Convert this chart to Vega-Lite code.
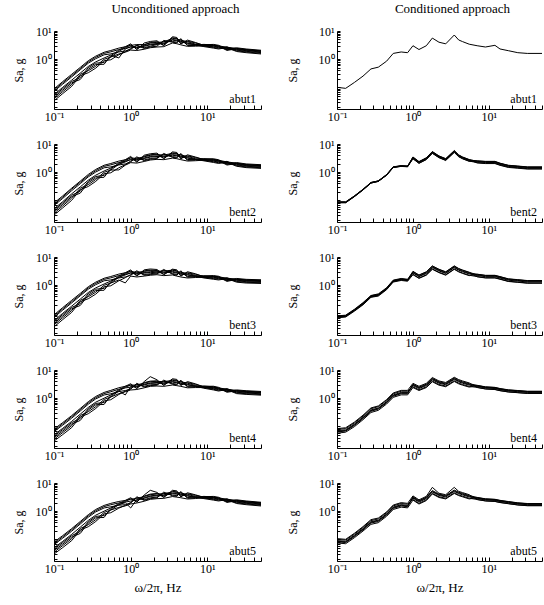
{
"$schema": "https://vega.github.io/schema/vega-lite/v6.json",
"padding": {"left": 12, "top": 3, "right": 0, "bottom": 0},
"background": "white",
"config": {
  "font": "Liberation Serif",
  "view": {"stroke": null},
  "axis": {"domainColor": "black", "tickColor": "black", "labelColor": "black", "titleColor": "black", "labelFont": "Liberation Serif", "titleFont": "Liberation Serif", "labelFontSize": 12, "titleFontSize": 12, "titleFontWeight": "normal", "domainWidth": 1, "tickWidth": 1, "grid": false, "labelOverlap": false, "labelFlush": false},
  "title": {"font": "Liberation Serif", "fontSize": 13, "fontWeight": "normal", "color": "black"}
},
"datasets": {"sa": [
{"p":"U1","f":0.1,"c1":0.033,"c2":0.088,"c3":0.044,"c4":0.072,"c5":0.055,"c6":0.039,"c7":0.08,"c8":0.05},
{"p":"U1","f":0.13,"c1":0.06,"c2":0.16,"c3":0.08,"c4":0.13,"c5":0.1,"c6":0.07,"c7":0.145,"c8":0.09},
{"p":"U1","f":0.17,"c1":0.108,"c2":0.29,"c3":0.144,"c4":0.234,"c5":0.18,"c6":0.126,"c7":0.26,"c8":0.162},
{"p":"U1","f":0.22,"c1":0.26,"c2":0.51,"c3":0.19,"c4":0.42,"c5":0.32,"c6":0.29,"c7":0.46,"c8":0.22},
{"p":"U1","f":0.28,"c1":0.33,"c2":0.88,"c3":0.44,"c4":0.72,"c5":0.55,"c6":0.39,"c7":0.8,"c8":0.5},
{"p":"U1","f":0.35,"c1":0.48,"c2":1.28,"c3":0.64,"c4":1.04,"c5":0.8,"c6":0.56,"c7":1.16,"c8":0.72},
{"p":"U1","f":0.45,"c1":0.88,"c2":1.76,"c3":0.66,"c4":1.43,"c5":1.1,"c6":0.99,"c7":1.6,"c8":0.77},
{"p":"U1","f":0.55,"c1":0.95,"c2":2.03,"c3":1.33,"c4":1.54,"c5":1.4,"c6":1.19,"c7":1.82,"c8":1.19},
{"p":"U1","f":0.7,"c1":1.43,"c2":2.47,"c3":2.09,"c4":1.8,"c5":1.1,"c6":1.9,"c7":2.19,"c8":1.52},
{"p":"U1","f":0.85,"c1":1.84,"c2":2.76,"c3":2.76,"c4":1.96,"c5":2.3,"c6":2.53,"c7":2.42,"c8":1.77},
{"p":"U1","f":1,"c1":2.38,"c2":3.08,"c3":3.5,"c4":2.24,"c5":2.8,"c6":3.22,"c7":2.66,"c8":2.1},
{"p":"U1","f":1.2,"c1":3.1,"c2":3.3,"c3":2.16,"c4":3.1,"c5":2.7,"c6":2.3,"c7":2.57,"c8":2.03},
{"p":"U1","f":1.5,"c1":2.55,"c2":3.3,"c3":3.75,"c4":2.4,"c5":3.0,"c6":3.2,"c7":2.85,"c8":2.25},
{"p":"U1","f":1.8,"c1":2.89,"c2":3.74,"c3":4.25,"c4":2.72,"c5":3.4,"c6":3.91,"c7":3.23,"c8":2.55},
{"p":"U1","f":2.2,"c1":3.3,"c2":3.96,"c3":4.5,"c4":2.88,"c5":3.6,"c6":4.14,"c7":3.42,"c8":2.7},
{"p":"U1","f":2.7,"c1":4.26,"c2":4.07,"c3":2.96,"c4":4.63,"c5":3.7,"c6":3.15,"c7":3.52,"c8":2.78},
{"p":"U1","f":3.5,"c1":4.25,"c2":5.5,"c3":6.25,"c4":4.0,"c5":5.0,"c6":5.75,"c7":4.75,"c8":3.75},
{"p":"U1","f":4,"c1":4.0,"c2":5.17,"c3":5.88,"c4":3.76,"c5":4.7,"c6":5.4,"c7":4.47,"c8":3.53},
{"p":"U1","f":4.5,"c1":4.95,"c2":4.73,"c3":3.44,"c4":5.38,"c5":4.3,"c6":3.66,"c7":4.09,"c8":3.23},
{"p":"U1","f":5.5,"c1":3.23,"c2":4.18,"c3":4.75,"c4":3.04,"c5":3.8,"c6":4.37,"c7":3.61,"c8":2.85},
{"p":"U1","f":7,"c1":3.23,"c2":3.4,"c3":3.91,"c4":3.06,"c5":3.23,"c6":3.74,"c7":3.23,"c8":2.89},
{"p":"U1","f":9,"c1":3.35,"c2":2.95,"c3":3.1,"c4":3.26,"c5":2.79,"c6":3.1,"c7":2.95,"c8":2.95},
{"p":"U1","f":12,"c1":3.19,"c2":2.61,"c3":2.9,"c4":3.34,"c5":2.47,"c6":3.05,"c7":2.76,"c8":3.1},
{"p":"U1","f":14,"c1":2.97,"c2":2.43,"c3":2.7,"c4":3.11,"c5":2.3,"c6":2.84,"c7":2.57,"c8":2.89},
{"p":"U1","f":18,"c1":2.64,"c2":2.76,"c3":2.4,"c4":2.16,"c5":2.57,"c6":2.52,"c7":2.28,"c8":2.04},
{"p":"U1","f":24,"c1":2.42,"c2":1.98,"c3":2.2,"c4":2.53,"c5":1.87,"c6":2.31,"c7":2.09,"c8":2.35},
{"p":"U1","f":32,"c1":2.2,"c2":1.8,"c3":2.0,"c4":2.3,"c5":1.7,"c6":2.1,"c7":1.9,"c8":2.14},
{"p":"U1","f":50,"c1":1.98,"c2":1.62,"c3":1.8,"c4":2.07,"c5":1.53,"c6":1.89,"c7":1.71,"c8":1.93},

{"p":"U2","f":0.1,"c1":0.03,"c2":0.08,"c3":0.04,"c4":0.065,"c5":0.05,"c6":0.035,"c7":0.072,"c8":0.045},
{"p":"U2","f":0.13,"c1":0.054,"c2":0.144,"c3":0.072,"c4":0.117,"c5":0.09,"c6":0.063,"c7":0.13,"c8":0.081},
{"p":"U2","f":0.17,"c1":0.1,"c2":0.27,"c3":0.136,"c4":0.22,"c5":0.17,"c6":0.12,"c7":0.25,"c8":0.153},
{"p":"U2","f":0.22,"c1":0.24,"c2":0.48,"c3":0.18,"c4":0.39,"c5":0.3,"c6":0.27,"c7":0.435,"c8":0.21},
{"p":"U2","f":0.28,"c1":0.31,"c2":0.83,"c3":0.42,"c4":0.68,"c5":0.52,"c6":0.36,"c7":0.75,"c8":0.47},
{"p":"U2","f":0.35,"c1":0.47,"c2":1.25,"c3":0.62,"c4":1.01,"c5":0.78,"c6":0.55,"c7":1.13,"c8":0.7},
{"p":"U2","f":0.45,"c1":0.88,"c2":1.76,"c3":0.66,"c4":1.43,"c5":1.1,"c6":0.99,"c7":1.6,"c8":0.77},
{"p":"U2","f":0.55,"c1":0.95,"c2":2.03,"c3":1.33,"c4":1.54,"c5":1.4,"c6":1.19,"c7":1.82,"c8":1.19},
{"p":"U2","f":0.7,"c1":1.43,"c2":2.47,"c3":2.09,"c4":1.8,"c5":1.9,"c6":1.9,"c7":2.19,"c8":1.2},
{"p":"U2","f":0.85,"c1":1.84,"c2":2.76,"c3":2.76,"c4":1.96,"c5":2.3,"c6":2.53,"c7":2.42,"c8":1.77},
{"p":"U2","f":1,"c1":2.47,"c2":3.19,"c3":3.63,"c4":2.32,"c5":2.9,"c6":3.34,"c7":2.76,"c8":2.18},
{"p":"U2","f":1.2,"c1":3.22,"c2":3.08,"c3":2.24,"c4":3.5,"c5":2.8,"c6":2.38,"c7":2.66,"c8":2.1},
{"p":"U2","f":1.5,"c1":2.72,"c2":3.52,"c3":4.0,"c4":2.56,"c5":3.2,"c6":3.68,"c7":3.04,"c8":2.4},
{"p":"U2","f":1.8,"c1":3.06,"c2":3.96,"c3":4.5,"c4":2.88,"c5":3.6,"c6":4.14,"c7":3.42,"c8":2.7},
{"p":"U2","f":2.2,"c1":3.23,"c2":4.18,"c3":4.75,"c4":3.04,"c5":3.8,"c6":4.37,"c7":3.61,"c8":2.85},
{"p":"U2","f":2.7,"c1":4.26,"c2":4.07,"c3":2.96,"c4":4.63,"c5":3.7,"c6":3.15,"c7":3.52,"c8":2.78},
{"p":"U2","f":3.5,"c1":3.57,"c2":4.62,"c3":5.25,"c4":3.36,"c5":4.2,"c6":4.83,"c7":3.99,"c8":3.15},
{"p":"U2","f":4,"c1":3.4,"c2":4.4,"c3":5.0,"c4":3.2,"c5":4.0,"c6":4.6,"c7":3.8,"c8":3.0},
{"p":"U2","f":4.5,"c1":4.26,"c2":4.07,"c3":2.96,"c4":4.63,"c5":3.7,"c6":3.15,"c7":3.52,"c8":2.78},
{"p":"U2","f":5.5,"c1":2.81,"c2":3.63,"c3":4.13,"c4":2.64,"c5":3.3,"c6":3.8,"c7":3.14,"c8":2.48},
{"p":"U2","f":7,"c1":2.85,"c2":3.0,"c3":3.45,"c4":2.7,"c5":2.85,"c6":3.3,"c7":2.85,"c8":2.55},
{"p":"U2","f":9,"c1":3.02,"c2":2.66,"c3":2.8,"c4":2.94,"c5":2.52,"c6":2.8,"c7":2.66,"c8":2.66},
{"p":"U2","f":12,"c1":2.86,"c2":2.34,"c3":2.6,"c4":2.99,"c5":2.21,"c6":2.73,"c7":2.47,"c8":2.77},
{"p":"U2","f":14,"c1":2.64,"c2":2.16,"c3":2.4,"c4":2.76,"c5":2.04,"c6":2.52,"c7":2.28,"c8":2.56},
{"p":"U2","f":18,"c1":2.31,"c2":2.42,"c3":2.1,"c4":1.89,"c5":2.24,"c6":2.21,"c7":2.0,"c8":1.79},
{"p":"U2","f":24,"c1":2.09,"c2":1.71,"c3":1.9,"c4":2.19,"c5":1.62,"c6":2.0,"c7":1.81,"c8":2.03},
{"p":"U2","f":32,"c1":1.87,"c2":1.53,"c3":1.7,"c4":1.96,"c5":1.45,"c6":1.79,"c7":1.62,"c8":1.81},
{"p":"U2","f":50,"c1":1.76,"c2":1.44,"c3":1.6,"c4":1.84,"c5":1.36,"c6":1.68,"c7":1.52,"c8":1.71},

{"p":"U3","f":0.1,"c1":0.033,"c2":0.088,"c3":0.044,"c4":0.072,"c5":0.055,"c6":0.039,"c7":0.08,"c8":0.05},
{"p":"U3","f":0.13,"c1":0.06,"c2":0.16,"c3":0.08,"c4":0.13,"c5":0.1,"c6":0.07,"c7":0.145,"c8":0.09},
{"p":"U3","f":0.17,"c1":0.108,"c2":0.29,"c3":0.144,"c4":0.234,"c5":0.18,"c6":0.126,"c7":0.26,"c8":0.162},
{"p":"U3","f":0.22,"c1":0.26,"c2":0.51,"c3":0.19,"c4":0.42,"c5":0.32,"c6":0.29,"c7":0.46,"c8":0.22},
{"p":"U3","f":0.28,"c1":0.33,"c2":0.88,"c3":0.44,"c4":0.72,"c5":0.55,"c6":0.39,"c7":0.8,"c8":0.5},
{"p":"U3","f":0.35,"c1":0.48,"c2":1.28,"c3":0.64,"c4":1.04,"c5":0.8,"c6":0.56,"c7":1.16,"c8":0.72},
{"p":"U3","f":0.45,"c1":0.88,"c2":1.76,"c3":0.66,"c4":1.43,"c5":1.1,"c6":0.99,"c7":1.6,"c8":0.77},
{"p":"U3","f":0.55,"c1":0.95,"c2":2.03,"c3":1.33,"c4":1.54,"c5":1.4,"c6":1.19,"c7":1.82,"c8":1.19},
{"p":"U3","f":0.7,"c1":1.43,"c2":2.47,"c3":2.09,"c4":1.8,"c5":1.9,"c6":1.9,"c7":2.19,"c8":1.52},
{"p":"U3","f":0.85,"c1":1.84,"c2":2.76,"c3":2.76,"c4":1.96,"c5":2.3,"c6":2.53,"c7":2.42,"c8":1.2},
{"p":"U3","f":1,"c1":2.38,"c2":3.08,"c3":3.5,"c4":2.24,"c5":2.8,"c6":3.22,"c7":2.66,"c8":2.1},
{"p":"U3","f":1.2,"c1":2.99,"c2":2.86,"c3":2.08,"c4":3.25,"c5":2.6,"c6":2.21,"c7":2.47,"c8":1.95},
{"p":"U3","f":1.5,"c1":2.38,"c2":3.08,"c3":3.5,"c4":2.24,"c5":2.8,"c6":3.22,"c7":2.66,"c8":2.1},
{"p":"U3","f":1.8,"c1":2.55,"c2":3.3,"c3":3.75,"c4":2.4,"c5":3.0,"c6":3.45,"c7":2.85,"c8":2.25},
{"p":"U3","f":2.2,"c1":2.7,"c2":3.1,"c3":3.6,"c4":2.5,"c5":3.2,"c6":3.3,"c7":2.75,"c8":2.35},
{"p":"U3","f":2.7,"c1":3.34,"c2":3.19,"c3":2.32,"c4":3.63,"c5":2.9,"c6":2.47,"c7":2.76,"c8":2.18},
{"p":"U3","f":3.5,"c1":2.6,"c2":3.4,"c3":3.7,"c4":2.45,"c5":3.1,"c6":3.5,"c7":2.9,"c8":2.3},
{"p":"U3","f":4,"c1":2.38,"c2":3.08,"c3":3.5,"c4":2.24,"c5":2.8,"c6":3.22,"c7":2.66,"c8":2.1},
{"p":"U3","f":4.5,"c1":2.99,"c2":2.86,"c3":2.08,"c4":3.25,"c5":2.6,"c6":2.21,"c7":2.47,"c8":1.95},
{"p":"U3","f":5.5,"c1":2.04,"c2":2.64,"c3":3.0,"c4":1.92,"c5":2.4,"c6":2.76,"c7":2.28,"c8":1.8},
{"p":"U3","f":7,"c1":2.09,"c2":2.2,"c3":2.53,"c4":1.98,"c5":2.09,"c6":2.42,"c7":2.09,"c8":1.87},
{"p":"U3","f":9,"c1":2.16,"c2":1.9,"c3":2.0,"c4":2.1,"c5":1.8,"c6":2.0,"c7":1.9,"c8":1.9},
{"p":"U3","f":12,"c1":2.09,"c2":1.71,"c3":1.9,"c4":2.19,"c5":1.62,"c6":2.0,"c7":1.81,"c8":2.03},
{"p":"U3","f":14,"c1":1.98,"c2":1.62,"c3":1.8,"c4":2.07,"c5":1.53,"c6":1.89,"c7":1.71,"c8":1.93},
{"p":"U3","f":18,"c1":1.76,"c2":1.84,"c3":1.6,"c4":1.44,"c5":1.71,"c6":1.68,"c7":1.52,"c8":1.36},
{"p":"U3","f":24,"c1":1.65,"c2":1.35,"c3":1.5,"c4":1.73,"c5":1.28,"c6":1.58,"c7":1.43,"c8":1.6},
{"p":"U3","f":32,"c1":1.54,"c2":1.26,"c3":1.4,"c4":1.61,"c5":1.19,"c6":1.47,"c7":1.33,"c8":1.5},
{"p":"U3","f":50,"c1":1.49,"c2":1.22,"c3":1.35,"c4":1.55,"c5":1.15,"c6":1.42,"c7":1.28,"c8":1.44},

{"p":"U4","f":0.1,"c1":0.03,"c2":0.08,"c3":0.04,"c4":0.065,"c5":0.05,"c6":0.035,"c7":0.072,"c8":0.045},
{"p":"U4","f":0.13,"c1":0.051,"c2":0.136,"c3":0.068,"c4":0.11,"c5":0.085,"c6":0.06,"c7":0.123,"c8":0.077},
{"p":"U4","f":0.17,"c1":0.09,"c2":0.24,"c3":0.12,"c4":0.195,"c5":0.15,"c6":0.105,"c7":0.218,"c8":0.135},
{"p":"U4","f":0.22,"c1":0.216,"c2":0.43,"c3":0.162,"c4":0.35,"c5":0.27,"c6":0.243,"c7":0.39,"c8":0.19},
{"p":"U4","f":0.28,"c1":0.28,"c2":0.75,"c3":0.38,"c4":0.61,"c5":0.47,"c6":0.33,"c7":0.68,"c8":0.42},
{"p":"U4","f":0.35,"c1":0.43,"c2":1.15,"c3":0.58,"c4":0.94,"c5":0.72,"c6":0.5,"c7":1.04,"c8":0.65},
{"p":"U4","f":0.45,"c1":0.8,"c2":1.6,"c3":0.6,"c4":1.3,"c5":1.0,"c6":0.9,"c7":1.45,"c8":0.7},
{"p":"U4","f":0.55,"c1":0.88,"c2":1.89,"c3":1.24,"c4":1.43,"c5":1.3,"c6":1.1,"c7":1.69,"c8":1.1},
{"p":"U4","f":0.7,"c1":1.35,"c2":2.34,"c3":1.98,"c4":1.71,"c5":1.8,"c6":1.8,"c7":2.07,"c8":1.44},
{"p":"U4","f":0.85,"c1":1.76,"c2":2.64,"c3":2.64,"c4":1.87,"c5":1.3,"c6":2.42,"c7":2.31,"c8":1.69},
{"p":"U4","f":1,"c1":2.21,"c2":2.86,"c3":3.25,"c4":2.08,"c5":2.6,"c6":2.99,"c7":2.47,"c8":1.95},
{"p":"U4","f":1.2,"c1":3.1,"c2":2.97,"c3":2.16,"c4":3.38,"c5":2.7,"c6":2.3,"c7":2.57,"c8":2.03},
{"p":"U4","f":1.5,"c1":2.64,"c2":3.41,"c3":3.88,"c4":2.48,"c5":3.1,"c6":3.57,"c7":2.95,"c8":2.33},
{"p":"U4","f":1.8,"c1":2.98,"c2":3.85,"c3":5.8,"c4":2.8,"c5":3.5,"c6":4.03,"c7":3.33,"c8":2.63},
{"p":"U4","f":2.2,"c1":3.06,"c2":3.96,"c3":4.5,"c4":2.88,"c5":3.6,"c6":4.14,"c7":3.42,"c8":2.7},
{"p":"U4","f":2.7,"c1":4.03,"c2":3.85,"c3":2.8,"c4":4.38,"c5":3.5,"c6":2.98,"c7":3.33,"c8":2.63},
{"p":"U4","f":3.5,"c1":3.32,"c2":4.29,"c3":4.88,"c4":3.12,"c5":3.9,"c6":4.49,"c7":3.71,"c8":2.93},
{"p":"U4","f":4,"c1":3.15,"c2":4.07,"c3":4.63,"c4":2.96,"c5":3.7,"c6":4.26,"c7":3.52,"c8":2.78},
{"p":"U4","f":4.5,"c1":4.03,"c2":3.85,"c3":2.8,"c4":4.38,"c5":3.5,"c6":2.98,"c7":3.33,"c8":2.63},
{"p":"U4","f":5.5,"c1":2.64,"c2":3.41,"c3":3.88,"c4":2.48,"c5":3.1,"c6":3.57,"c7":2.95,"c8":2.33},
{"p":"U4","f":7,"c1":2.66,"c2":2.8,"c3":3.22,"c4":2.52,"c5":2.66,"c6":3.08,"c7":2.66,"c8":2.38},
{"p":"U4","f":9,"c1":2.7,"c2":2.38,"c3":2.5,"c4":2.63,"c5":2.25,"c6":2.5,"c7":2.38,"c8":2.38},
{"p":"U4","f":12,"c1":2.53,"c2":2.07,"c3":2.3,"c4":2.65,"c5":1.96,"c6":2.42,"c7":2.19,"c8":2.46},
{"p":"U4","f":14,"c1":2.31,"c2":1.89,"c3":2.1,"c4":2.42,"c5":1.79,"c6":2.21,"c7":2.0,"c8":2.25},
{"p":"U4","f":18,"c1":2.09,"c2":2.19,"c3":1.9,"c4":1.71,"c5":2.03,"c6":2.0,"c7":1.81,"c8":1.62},
{"p":"U4","f":24,"c1":1.87,"c2":1.53,"c3":1.7,"c4":1.96,"c5":1.45,"c6":1.79,"c7":1.62,"c8":1.82},
{"p":"U4","f":32,"c1":1.76,"c2":1.44,"c3":1.6,"c4":1.84,"c5":1.36,"c6":1.68,"c7":1.52,"c8":1.71},
{"p":"U4","f":50,"c1":1.65,"c2":1.35,"c3":1.5,"c4":1.73,"c5":1.28,"c6":1.58,"c7":1.43,"c8":1.6},

{"p":"U5","f":0.1,"c1":0.03,"c2":0.08,"c3":0.04,"c4":0.065,"c5":0.05,"c6":0.035,"c7":0.072,"c8":0.045},
{"p":"U5","f":0.13,"c1":0.051,"c2":0.136,"c3":0.068,"c4":0.11,"c5":0.085,"c6":0.06,"c7":0.123,"c8":0.077},
{"p":"U5","f":0.17,"c1":0.09,"c2":0.24,"c3":0.12,"c4":0.195,"c5":0.15,"c6":0.105,"c7":0.218,"c8":0.135},
{"p":"U5","f":0.22,"c1":0.216,"c2":0.43,"c3":0.162,"c4":0.35,"c5":0.27,"c6":0.243,"c7":0.39,"c8":0.19},
{"p":"U5","f":0.28,"c1":0.28,"c2":0.75,"c3":0.38,"c4":0.61,"c5":0.47,"c6":0.33,"c7":0.68,"c8":0.42},
{"p":"U5","f":0.35,"c1":0.43,"c2":1.15,"c3":0.58,"c4":0.94,"c5":0.72,"c6":0.5,"c7":1.04,"c8":0.65},
{"p":"U5","f":0.45,"c1":0.8,"c2":1.6,"c3":0.6,"c4":1.3,"c5":1.0,"c6":0.9,"c7":1.45,"c8":0.7},
{"p":"U5","f":0.55,"c1":0.88,"c2":1.89,"c3":1.24,"c4":1.43,"c5":1.3,"c6":1.1,"c7":1.69,"c8":1.1},
{"p":"U5","f":0.7,"c1":1.28,"c2":2.21,"c3":1.87,"c4":1.62,"c5":1.7,"c6":1.7,"c7":1.96,"c8":1.36},
{"p":"U5","f":0.85,"c1":1.6,"c2":2.4,"c3":2.4,"c4":1.7,"c5":2.0,"c6":2.2,"c7":2.1,"c8":1.54},
{"p":"U5","f":1,"c1":2.04,"c2":2.64,"c3":3.0,"c4":1.92,"c5":1.3,"c6":2.76,"c7":2.28,"c8":1.8},
{"p":"U5","f":1.2,"c1":2.99,"c2":2.86,"c3":2.08,"c4":3.25,"c5":2.6,"c6":2.21,"c7":2.47,"c8":1.95},
{"p":"U5","f":1.5,"c1":2.55,"c2":3.3,"c3":3.75,"c4":2.4,"c5":3.0,"c6":3.45,"c7":2.85,"c8":2.25},
{"p":"U5","f":1.8,"c1":2.98,"c2":3.85,"c3":5.5,"c4":2.8,"c5":3.5,"c6":4.03,"c7":3.33,"c8":2.63},
{"p":"U5","f":2.2,"c1":3.15,"c2":4.07,"c3":4.63,"c4":2.96,"c5":3.7,"c6":4.26,"c7":3.52,"c8":2.78},
{"p":"U5","f":2.7,"c1":4.37,"c2":4.18,"c3":3.04,"c4":4.75,"c5":3.8,"c6":3.23,"c7":3.61,"c8":2.85},
{"p":"U5","f":3.5,"c1":3.74,"c2":4.84,"c3":5.5,"c4":3.52,"c5":4.4,"c6":5.06,"c7":4.18,"c8":3.3},
{"p":"U5","f":4,"c1":3.57,"c2":4.62,"c3":5.25,"c4":3.36,"c5":4.2,"c6":4.83,"c7":3.99,"c8":3.15},
{"p":"U5","f":4.5,"c1":4.6,"c2":4.4,"c3":3.2,"c4":5.0,"c5":4.0,"c6":3.4,"c7":3.8,"c8":3.0},
{"p":"U5","f":5.5,"c1":3.06,"c2":3.96,"c3":4.5,"c4":2.88,"c5":3.6,"c6":4.14,"c7":3.42,"c8":2.7},
{"p":"U5","f":7,"c1":3.14,"c2":3.3,"c3":3.8,"c4":2.97,"c5":3.14,"c6":3.63,"c7":3.14,"c8":2.81},
{"p":"U5","f":9,"c1":3.35,"c2":2.95,"c3":3.1,"c4":3.26,"c5":2.79,"c6":3.1,"c7":2.95,"c8":2.95},
{"p":"U5","f":12,"c1":3.19,"c2":2.61,"c3":2.9,"c4":3.34,"c5":2.47,"c6":3.05,"c7":2.76,"c8":3.1},
{"p":"U5","f":14,"c1":2.97,"c2":2.43,"c3":2.7,"c4":3.11,"c5":2.3,"c6":2.84,"c7":2.57,"c8":2.89},
{"p":"U5","f":18,"c1":2.64,"c2":2.76,"c3":2.4,"c4":2.16,"c5":2.57,"c6":2.52,"c7":2.28,"c8":2.04},
{"p":"U5","f":24,"c1":2.42,"c2":1.98,"c3":2.2,"c4":2.53,"c5":1.87,"c6":2.31,"c7":2.09,"c8":2.35},
{"p":"U5","f":32,"c1":2.2,"c2":1.8,"c3":2.0,"c4":2.3,"c5":1.7,"c6":2.1,"c7":1.9,"c8":2.14},
{"p":"U5","f":50,"c1":1.98,"c2":1.62,"c3":1.8,"c4":2.07,"c5":1.53,"c6":1.89,"c7":1.71,"c8":1.93},

{"p":"C1","f":0.1,"c1":0.1},
{"p":"C1","f":0.13,"c1":0.092},
{"p":"C1","f":0.17,"c1":0.15},
{"p":"C1","f":0.22,"c1":0.25},
{"p":"C1","f":0.28,"c1":0.45},
{"p":"C1","f":0.35,"c1":0.52},
{"p":"C1","f":0.45,"c1":0.85},
{"p":"C1","f":0.55,"c1":1.6},
{"p":"C1","f":0.7,"c1":1.8},
{"p":"C1","f":0.85,"c1":1.7},
{"p":"C1","f":1,"c1":3.0},
{"p":"C1","f":1.2,"c1":2.2},
{"p":"C1","f":1.5,"c1":3.0},
{"p":"C1","f":1.8,"c1":5.6},
{"p":"C1","f":2.2,"c1":4.0},
{"p":"C1","f":2.7,"c1":3.5},
{"p":"C1","f":3.5,"c1":7.2},
{"p":"C1","f":4,"c1":4.8},
{"p":"C1","f":4.5,"c1":4.2},
{"p":"C1","f":5.5,"c1":3.4},
{"p":"C1","f":7,"c1":3.0},
{"p":"C1","f":9,"c1":2.7},
{"p":"C1","f":12,"c1":3.1},
{"p":"C1","f":14,"c1":2.3},
{"p":"C1","f":18,"c1":2.0},
{"p":"C1","f":24,"c1":1.7},
{"p":"C1","f":32,"c1":1.6},
{"p":"C1","f":50,"c1":1.6},

{"p":"C2","f":0.1,"c1":0.082,"c2":0.088,"c3":0.085,"c4":0.083,"c5":0.087,"c6":0.085},
{"p":"C2","f":0.13,"c1":0.082,"c2":0.088,"c3":0.085,"c4":0.083,"c5":0.087,"c6":0.085},
{"p":"C2","f":0.17,"c1":0.136,"c2":0.144,"c3":0.14,"c4":0.137,"c5":0.143,"c6":0.14},
{"p":"C2","f":0.22,"c1":0.233,"c2":0.247,"c3":0.24,"c4":0.235,"c5":0.245,"c6":0.24},
{"p":"C2","f":0.28,"c1":0.41,"c2":0.43,"c3":0.42,"c4":0.41,"c5":0.43,"c6":0.42},
{"p":"C2","f":0.35,"c1":0.47,"c2":0.49,"c3":0.48,"c4":0.47,"c5":0.49,"c6":0.48},
{"p":"C2","f":0.45,"c1":0.78,"c2":0.82,"c3":0.8,"c4":0.78,"c5":0.82,"c6":0.8},
{"p":"C2","f":0.55,"c1":1.46,"c2":1.55,"c3":1.5,"c4":1.47,"c5":1.53,"c6":1.5},
{"p":"C2","f":0.7,"c1":1.6,"c2":1.7,"c3":1.65,"c4":1.62,"c5":1.68,"c6":1.65},
{"p":"C2","f":0.85,"c1":1.55,"c2":1.65,"c3":1.6,"c4":1.57,"c5":1.63,"c6":1.6},
{"p":"C2","f":1,"c1":2.98,"c2":3.39,"c3":3.2,"c4":3.46,"c5":3.04,"c6":3.3},
{"p":"C2","f":1.2,"c1":2.05,"c2":2.33,"c3":2.2,"c4":2.38,"c5":2.09,"c6":2.27},
{"p":"C2","f":1.5,"c1":2.79,"c2":3.18,"c3":3.0,"c4":3.24,"c5":2.85,"c6":3.09},
{"p":"C2","f":1.8,"c1":4.65,"c2":5.3,"c3":5.0,"c4":5.4,"c5":4.75,"c6":5.15},
{"p":"C2","f":2.2,"c1":3.26,"c2":3.71,"c3":3.5,"c4":3.78,"c5":3.33,"c6":3.6},
{"p":"C2","f":2.7,"c1":2.6,"c2":2.97,"c3":2.8,"c4":3.02,"c5":2.66,"c6":2.88},
{"p":"C2","f":3.5,"c1":5.02,"c2":5.72,"c3":5.4,"c4":5.83,"c5":5.13,"c6":5.56},
{"p":"C2","f":4,"c1":3.53,"c2":4.03,"c3":3.8,"c4":4.1,"c5":3.61,"c6":3.91},
{"p":"C2","f":4.5,"c1":2.98,"c2":3.39,"c3":3.2,"c4":3.46,"c5":3.04,"c6":3.3},
{"p":"C2","f":5.5,"c1":2.42,"c2":2.76,"c3":2.6,"c4":2.81,"c5":2.47,"c6":2.68},
{"p":"C2","f":7,"c1":2.48,"c2":2.12,"c3":2.3,"c4":2.42,"c5":2.19,"c6":2.53},
{"p":"C2","f":9,"c1":2.38,"c2":2.02,"c3":2.2,"c4":2.31,"c5":2.09,"c6":2.42},
{"p":"C2","f":12,"c1":2.38,"c2":2.02,"c3":2.2,"c4":2.31,"c5":2.09,"c6":2.42},
{"p":"C2","f":14,"c1":2.05,"c2":1.75,"c3":1.9,"c4":2.0,"c5":1.8,"c6":2.09},
{"p":"C2","f":18,"c1":1.73,"c2":1.47,"c3":1.6,"c4":1.68,"c5":1.52,"c6":1.76},
{"p":"C2","f":24,"c1":1.62,"c2":1.38,"c3":1.5,"c4":1.58,"c5":1.43,"c6":1.65},
{"p":"C2","f":32,"c1":1.51,"c2":1.29,"c3":1.4,"c4":1.47,"c5":1.33,"c6":1.54},
{"p":"C2","f":50,"c1":1.51,"c2":1.29,"c3":1.4,"c4":1.47,"c5":1.33,"c6":1.54},

{"p":"C3","f":0.1,"c1":0.069,"c2":0.081,"c3":0.075,"c4":0.072,"c5":0.078,"c6":0.075},
{"p":"C3","f":0.13,"c1":0.074,"c2":0.086,"c3":0.08,"c4":0.077,"c5":0.083,"c6":0.08},
{"p":"C3","f":0.17,"c1":0.12,"c2":0.14,"c3":0.13,"c4":0.125,"c5":0.135,"c6":0.13},
{"p":"C3","f":0.22,"c1":0.2,"c2":0.24,"c3":0.22,"c4":0.21,"c5":0.23,"c6":0.22},
{"p":"C3","f":0.28,"c1":0.37,"c2":0.43,"c3":0.4,"c4":0.38,"c5":0.42,"c6":0.4},
{"p":"C3","f":0.35,"c1":0.41,"c2":0.49,"c3":0.45,"c4":0.43,"c5":0.47,"c6":0.45},
{"p":"C3","f":0.45,"c1":0.69,"c2":0.81,"c3":0.75,"c4":0.72,"c5":0.78,"c6":0.75},
{"p":"C3","f":0.55,"c1":1.29,"c2":1.51,"c3":1.4,"c4":1.34,"c5":1.46,"c6":1.4},
{"p":"C3","f":0.7,"c1":1.47,"c2":1.73,"c3":1.6,"c4":1.54,"c5":1.66,"c6":1.6},
{"p":"C3","f":0.85,"c1":1.38,"c2":1.62,"c3":1.5,"c4":1.44,"c5":1.56,"c6":1.5},
{"p":"C3","f":1,"c1":2.35,"c2":3.02,"c3":2.7,"c4":3.1,"c5":2.43,"c6":2.84},
{"p":"C3","f":1.2,"c1":1.74,"c2":2.24,"c3":2.0,"c4":2.3,"c5":1.8,"c6":2.1},
{"p":"C3","f":1.5,"c1":2.26,"c2":2.91,"c3":2.6,"c4":2.99,"c5":2.34,"c6":2.73},
{"p":"C3","f":1.8,"c1":3.65,"c2":4.7,"c3":4.2,"c4":4.83,"c5":3.78,"c6":4.41},
{"p":"C3","f":2.2,"c1":2.78,"c2":3.58,"c3":3.2,"c4":3.68,"c5":2.88,"c6":3.36},
{"p":"C3","f":2.7,"c1":2.26,"c2":2.91,"c3":2.6,"c4":2.99,"c5":2.34,"c6":2.73},
{"p":"C3","f":3.5,"c1":3.65,"c2":4.7,"c3":4.2,"c4":4.83,"c5":3.78,"c6":4.41},
{"p":"C3","f":4,"c1":2.96,"c2":3.81,"c3":3.4,"c4":3.91,"c5":3.06,"c6":3.57},
{"p":"C3","f":4.5,"c1":2.61,"c2":3.36,"c3":3.0,"c4":3.45,"c5":2.7,"c6":3.15},
{"p":"C3","f":5.5,"c1":2.18,"c2":2.8,"c3":2.5,"c4":2.88,"c5":2.25,"c6":2.63},
{"p":"C3","f":7,"c1":2.42,"c2":1.98,"c3":2.2,"c4":2.31,"c5":2.02,"c6":2.46},
{"p":"C3","f":9,"c1":2.2,"c2":1.8,"c3":2.0,"c4":2.1,"c5":1.84,"c6":2.24},
{"p":"C3","f":12,"c1":2.2,"c2":1.8,"c3":2.0,"c4":2.1,"c5":1.84,"c6":2.24},
{"p":"C3","f":14,"c1":1.98,"c2":1.62,"c3":1.8,"c4":1.89,"c5":1.66,"c6":2.02},
{"p":"C3","f":18,"c1":1.65,"c2":1.35,"c3":1.5,"c4":1.58,"c5":1.38,"c6":1.68},
{"p":"C3","f":24,"c1":1.54,"c2":1.26,"c3":1.4,"c4":1.47,"c5":1.29,"c6":1.57},
{"p":"C3","f":32,"c1":1.43,"c2":1.17,"c3":1.3,"c4":1.37,"c5":1.2,"c6":1.46},
{"p":"C3","f":50,"c1":1.43,"c2":1.17,"c3":1.3,"c4":1.37,"c5":1.2,"c6":1.46},

{"p":"C4","f":0.1,"c1":0.057,"c2":0.083,"c3":0.07,"c4":0.063,"c5":0.077,"c6":0.067},
{"p":"C4","f":0.13,"c1":0.062,"c2":0.089,"c3":0.075,"c4":0.068,"c5":0.083,"c6":0.071},
{"p":"C4","f":0.17,"c1":0.098,"c2":0.142,"c3":0.12,"c4":0.108,"c5":0.132,"c6":0.114},
{"p":"C4","f":0.22,"c1":0.172,"c2":0.248,"c3":0.21,"c4":0.189,"c5":0.231,"c6":0.2},
{"p":"C4","f":0.28,"c1":0.31,"c2":0.45,"c3":0.38,"c4":0.34,"c5":0.42,"c6":0.36},
{"p":"C4","f":0.35,"c1":0.37,"c2":0.53,"c3":0.45,"c4":0.41,"c5":0.5,"c6":0.43},
{"p":"C4","f":0.45,"c1":0.62,"c2":0.89,"c3":0.75,"c4":0.68,"c5":0.83,"c6":0.71},
{"p":"C4","f":0.55,"c1":1.07,"c2":1.53,"c3":1.3,"c4":1.17,"c5":1.43,"c6":1.24},
{"p":"C4","f":0.7,"c1":1.31,"c2":1.89,"c3":1.6,"c4":1.44,"c5":1.76,"c6":1.52},
{"p":"C4","f":0.85,"c1":1.31,"c2":1.89,"c3":1.6,"c4":1.44,"c5":1.76,"c6":1.52},
{"p":"C4","f":1,"c1":2.38,"c2":3.36,"c3":2.8,"c4":3.14,"c5":2.52,"c6":2.97},
{"p":"C4","f":1.2,"c1":1.87,"c2":2.64,"c3":2.2,"c4":2.46,"c5":1.98,"c6":2.33},
{"p":"C4","f":1.5,"c1":2.38,"c2":3.36,"c3":2.8,"c4":3.14,"c5":2.52,"c6":2.97},
{"p":"C4","f":1.8,"c1":3.83,"c2":5.4,"c3":4.5,"c4":5.04,"c5":4.05,"c6":4.77},
{"p":"C4","f":2.2,"c1":2.89,"c2":4.08,"c3":3.4,"c4":3.81,"c5":3.06,"c6":3.6},
{"p":"C4","f":2.7,"c1":2.55,"c2":3.6,"c3":3.0,"c4":3.36,"c5":2.7,"c6":3.18},
{"p":"C4","f":3.5,"c1":3.91,"c2":5.52,"c3":4.6,"c4":5.15,"c5":4.14,"c6":4.88},
{"p":"C4","f":4,"c1":3.23,"c2":4.56,"c3":3.8,"c4":4.26,"c5":3.42,"c6":4.03},
{"p":"C4","f":4.5,"c1":2.89,"c2":4.08,"c3":3.4,"c4":3.81,"c5":3.06,"c6":3.6},
{"p":"C4","f":5.5,"c1":2.47,"c2":3.48,"c3":2.9,"c4":3.25,"c5":2.61,"c6":3.07},
{"p":"C4","f":7,"c1":2.81,"c2":2.39,"c3":2.6,"c4":2.86,"c5":2.42,"c6":2.7},
{"p":"C4","f":9,"c1":2.48,"c2":2.12,"c3":2.3,"c4":2.53,"c5":2.14,"c6":2.39},
{"p":"C4","f":12,"c1":2.38,"c2":2.02,"c3":2.2,"c4":2.42,"c5":2.05,"c6":2.29},
{"p":"C4","f":14,"c1":2.16,"c2":1.84,"c3":2.0,"c4":2.2,"c5":1.86,"c6":2.08},
{"p":"C4","f":18,"c1":1.94,"c2":1.66,"c3":1.8,"c4":1.98,"c5":1.67,"c6":1.87},
{"p":"C4","f":24,"c1":1.84,"c2":1.56,"c3":1.7,"c4":1.87,"c5":1.58,"c6":1.77},
{"p":"C4","f":32,"c1":1.73,"c2":1.47,"c3":1.6,"c4":1.76,"c5":1.49,"c6":1.66},
{"p":"C4","f":50,"c1":1.73,"c2":1.47,"c3":1.6,"c4":1.76,"c5":1.49,"c6":1.66},

{"p":"C5","f":0.1,"c1":0.074,"c2":0.106,"c3":0.09,"c4":0.081,"c5":0.099,"c6":0.086},
{"p":"C5","f":0.13,"c1":0.07,"c2":0.1,"c3":0.085,"c4":0.077,"c5":0.094,"c6":0.081},
{"p":"C5","f":0.17,"c1":0.115,"c2":0.165,"c3":0.14,"c4":0.126,"c5":0.154,"c6":0.133},
{"p":"C5","f":0.22,"c1":0.197,"c2":0.283,"c3":0.24,"c4":0.216,"c5":0.264,"c6":0.228},
{"p":"C5","f":0.28,"c1":0.34,"c2":0.5,"c3":0.42,"c4":0.38,"c5":0.46,"c6":0.4},
{"p":"C5","f":0.35,"c1":0.39,"c2":0.57,"c3":0.48,"c4":0.43,"c5":0.53,"c6":0.46},
{"p":"C5","f":0.45,"c1":0.66,"c2":0.94,"c3":0.8,"c4":0.72,"c5":0.88,"c6":0.76},
{"p":"C5","f":0.55,"c1":1.15,"c2":1.65,"c3":1.4,"c4":1.26,"c5":1.54,"c6":1.33},
{"p":"C5","f":0.7,"c1":1.39,"c2":2.01,"c3":1.7,"c4":1.53,"c5":1.87,"c6":1.62},
{"p":"C5","f":0.85,"c1":1.31,"c2":1.89,"c3":1.6,"c4":1.44,"c5":1.76,"c6":1.52},
{"p":"C5","f":1,"c1":2.47,"c2":3.48,"c3":2.9,"c4":3.25,"c5":2.61,"c6":3.07},
{"p":"C5","f":1.2,"c1":1.79,"c2":2.52,"c3":2.1,"c4":2.35,"c5":1.89,"c6":2.23},
{"p":"C5","f":1.5,"c1":2.38,"c2":3.36,"c3":2.8,"c4":3.14,"c5":2.52,"c6":2.97},
{"p":"C5","f":1.8,"c1":4.08,"c2":7.0,"c3":4.8,"c4":5.38,"c5":4.32,"c6":5.09},
{"p":"C5","f":2.2,"c1":3.06,"c2":4.32,"c3":3.6,"c4":4.03,"c5":3.24,"c6":3.82},
{"p":"C5","f":2.7,"c1":2.72,"c2":3.84,"c3":3.2,"c4":3.58,"c5":2.88,"c6":3.39},
{"p":"C5","f":3.5,"c1":4.25,"c2":7.0,"c3":5.0,"c4":5.6,"c5":4.5,"c6":5.3},
{"p":"C5","f":4,"c1":3.57,"c2":5.04,"c3":4.2,"c4":4.7,"c5":3.78,"c6":4.45},
{"p":"C5","f":4.5,"c1":3.23,"c2":4.56,"c3":3.8,"c4":4.26,"c5":3.42,"c6":4.03},
{"p":"C5","f":5.5,"c1":2.72,"c2":3.84,"c3":3.2,"c4":3.58,"c5":2.88,"c6":3.39},
{"p":"C5","f":7,"c1":3.02,"c2":2.58,"c3":2.8,"c4":3.08,"c5":2.6,"c6":2.91},
{"p":"C5","f":9,"c1":2.7,"c2":2.3,"c3":2.5,"c4":2.75,"c5":2.33,"c6":2.6},
{"p":"C5","f":12,"c1":2.59,"c2":2.21,"c3":2.4,"c4":2.64,"c5":2.23,"c6":2.5},
{"p":"C5","f":14,"c1":2.38,"c2":2.02,"c3":2.2,"c4":2.42,"c5":2.05,"c6":2.29},
{"p":"C5","f":18,"c1":2.16,"c2":1.84,"c3":2.0,"c4":2.2,"c5":1.86,"c6":2.08},
{"p":"C5","f":24,"c1":1.94,"c2":1.66,"c3":1.8,"c4":1.98,"c5":1.67,"c6":1.87},
{"p":"C5","f":32,"c1":1.84,"c2":1.56,"c3":1.7,"c4":1.87,"c5":1.58,"c6":1.77},
{"p":"C5","f":50,"c1":1.84,"c2":1.56,"c3":1.7,"c4":1.87,"c5":1.58,"c6":1.77}
]},
"columns": 2,
"spacing": {"row": 35, "column": 76},
"bounds": "flush",
"concat": [
 {"width": 207, "height": 78, "title": {"text": "Unconditioned approach", "dx": 18, "dy": -5}, "layer": [
  {"data": {"name": "sa"}, "transform": [{"filter": "datum.p=='U1'"}, {"fold": ["c1","c2","c3","c4","c5","c6","c7","c8"], "as": ["c","v"]}, {"filter": "isValid(datum.v)"}],
   "mark": {"type": "line", "stroke": "black", "strokeWidth": 1},
   "encoding": {
    "x": {"field": "f", "type": "quantitative", "scale": {"type": "log", "domain": [0.1, 50], "nice": false}, "axis": {"title": null, "values": [0.1,0.2,0.3,0.4,0.5,0.6,0.7,0.8,0.9,1,2,3,4,5,6,7,8,9,10,20,30,40,50], "labelExpr": "datum.value==0.1?'10⁻¹':datum.value==1?'10⁰':datum.value==10?'10¹':''", "tickSize": -4, "labelPadding": 6}},
    "y": {"field": "v", "type": "quantitative", "scale": {"type": "log", "domain": [0.017, 10], "nice": false}, "axis": {"title": "Sa, g", "values": [0.02,0.03,0.04,0.05,0.06,0.07,0.08,0.09,0.1,0.2,0.3,0.4,0.5,0.6,0.7,0.8,0.9,1,2,3,4,5,6,7,8,9,10], "labelExpr": "datum.value==1?'10⁰':datum.value==10?'10¹':''", "tickSize": -3, "labelPadding": 6, "titlePadding": 10}},
    "detail": {"field": "c"}}},
  {"data": {"values": [{}]}, "mark": {"type": "text", "text": "abut1", "align": "right", "baseline": "alphabetic", "dx": -5, "dy": -6, "fontSize": 12, "color": "black"},
   "encoding": {"x": {"datum": 50, "type": "quantitative"}, "y": {"datum": 0.017, "type": "quantitative"}}}
 ]},
 {"width": 205, "height": 78, "title": {"text": "Conditioned approach", "dx": 13, "dy": -5}, "layer": [
  {"data": {"name": "sa"}, "transform": [{"filter": "datum.p=='C1'"}, {"fold": ["c1","c2","c3","c4","c5","c6"], "as": ["c","v"]}, {"filter": "isValid(datum.v)"}],
   "mark": {"type": "line", "stroke": "black", "strokeWidth": 1},
   "encoding": {
    "x": {"field": "f", "type": "quantitative", "scale": {"type": "log", "domain": [0.1, 50], "nice": false}, "axis": {"title": null, "values": [0.1,0.2,0.3,0.4,0.5,0.6,0.7,0.8,0.9,1,2,3,4,5,6,7,8,9,10,20,30,40,50], "labelExpr": "datum.value==0.1?'10⁻¹':datum.value==1?'10⁰':datum.value==10?'10¹':''", "tickSize": -4, "labelPadding": 6}},
    "y": {"field": "v", "type": "quantitative", "scale": {"type": "log", "domain": [0.017, 10], "nice": false}, "axis": {"title": "Sa, g", "values": [0.02,0.03,0.04,0.05,0.06,0.07,0.08,0.09,0.1,0.2,0.3,0.4,0.5,0.6,0.7,0.8,0.9,1,2,3,4,5,6,7,8,9,10], "labelExpr": "datum.value==1?'10⁰':datum.value==10?'10¹':''", "tickSize": -3, "labelPadding": 6, "titlePadding": 19}},
    "detail": {"field": "c"}}},
  {"data": {"values": [{}]}, "mark": {"type": "text", "text": "abut1", "align": "right", "baseline": "alphabetic", "dx": -5, "dy": -6, "fontSize": 12, "color": "black"},
   "encoding": {"x": {"datum": 50, "type": "quantitative"}, "y": {"datum": 0.017, "type": "quantitative"}}}
 ]},
 {"width": 207, "height": 78, "layer": [
  {"data": {"name": "sa"}, "transform": [{"filter": "datum.p=='U2'"}, {"fold": ["c1","c2","c3","c4","c5","c6","c7","c8"], "as": ["c","v"]}, {"filter": "isValid(datum.v)"}],
   "mark": {"type": "line", "stroke": "black", "strokeWidth": 1},
   "encoding": {
    "x": {"field": "f", "type": "quantitative", "scale": {"type": "log", "domain": [0.1, 50], "nice": false}, "axis": {"title": null, "values": [0.1,0.2,0.3,0.4,0.5,0.6,0.7,0.8,0.9,1,2,3,4,5,6,7,8,9,10,20,30,40,50], "labelExpr": "datum.value==0.1?'10⁻¹':datum.value==1?'10⁰':datum.value==10?'10¹':''", "tickSize": -4, "labelPadding": 6}},
    "y": {"field": "v", "type": "quantitative", "scale": {"type": "log", "domain": [0.017, 10], "nice": false}, "axis": {"title": "Sa, g", "values": [0.02,0.03,0.04,0.05,0.06,0.07,0.08,0.09,0.1,0.2,0.3,0.4,0.5,0.6,0.7,0.8,0.9,1,2,3,4,5,6,7,8,9,10], "labelExpr": "datum.value==1?'10⁰':datum.value==10?'10¹':''", "tickSize": -3, "labelPadding": 6, "titlePadding": 10}},
    "detail": {"field": "c"}}},
  {"data": {"values": [{}]}, "mark": {"type": "text", "text": "bent2", "align": "right", "baseline": "alphabetic", "dx": -5, "dy": -6, "fontSize": 12, "color": "black"},
   "encoding": {"x": {"datum": 50, "type": "quantitative"}, "y": {"datum": 0.017, "type": "quantitative"}}}
 ]},
 {"width": 205, "height": 78, "layer": [
  {"data": {"name": "sa"}, "transform": [{"filter": "datum.p=='C2'"}, {"fold": ["c1","c2","c3","c4","c5","c6"], "as": ["c","v"]}, {"filter": "isValid(datum.v)"}],
   "mark": {"type": "line", "stroke": "black", "strokeWidth": 1},
   "encoding": {
    "x": {"field": "f", "type": "quantitative", "scale": {"type": "log", "domain": [0.1, 50], "nice": false}, "axis": {"title": null, "values": [0.1,0.2,0.3,0.4,0.5,0.6,0.7,0.8,0.9,1,2,3,4,5,6,7,8,9,10,20,30,40,50], "labelExpr": "datum.value==0.1?'10⁻¹':datum.value==1?'10⁰':datum.value==10?'10¹':''", "tickSize": -4, "labelPadding": 6}},
    "y": {"field": "v", "type": "quantitative", "scale": {"type": "log", "domain": [0.017, 10], "nice": false}, "axis": {"title": "Sa, g", "values": [0.02,0.03,0.04,0.05,0.06,0.07,0.08,0.09,0.1,0.2,0.3,0.4,0.5,0.6,0.7,0.8,0.9,1,2,3,4,5,6,7,8,9,10], "labelExpr": "datum.value==1?'10⁰':datum.value==10?'10¹':''", "tickSize": -3, "labelPadding": 6, "titlePadding": 19}},
    "detail": {"field": "c"}}},
  {"data": {"values": [{}]}, "mark": {"type": "text", "text": "bent2", "align": "right", "baseline": "alphabetic", "dx": -5, "dy": -6, "fontSize": 12, "color": "black"},
   "encoding": {"x": {"datum": 50, "type": "quantitative"}, "y": {"datum": 0.017, "type": "quantitative"}}}
 ]},
 {"width": 207, "height": 78, "layer": [
  {"data": {"name": "sa"}, "transform": [{"filter": "datum.p=='U3'"}, {"fold": ["c1","c2","c3","c4","c5","c6","c7","c8"], "as": ["c","v"]}, {"filter": "isValid(datum.v)"}],
   "mark": {"type": "line", "stroke": "black", "strokeWidth": 1},
   "encoding": {
    "x": {"field": "f", "type": "quantitative", "scale": {"type": "log", "domain": [0.1, 50], "nice": false}, "axis": {"title": null, "values": [0.1,0.2,0.3,0.4,0.5,0.6,0.7,0.8,0.9,1,2,3,4,5,6,7,8,9,10,20,30,40,50], "labelExpr": "datum.value==0.1?'10⁻¹':datum.value==1?'10⁰':datum.value==10?'10¹':''", "tickSize": -4, "labelPadding": 6}},
    "y": {"field": "v", "type": "quantitative", "scale": {"type": "log", "domain": [0.017, 10], "nice": false}, "axis": {"title": "Sa, g", "values": [0.02,0.03,0.04,0.05,0.06,0.07,0.08,0.09,0.1,0.2,0.3,0.4,0.5,0.6,0.7,0.8,0.9,1,2,3,4,5,6,7,8,9,10], "labelExpr": "datum.value==1?'10⁰':datum.value==10?'10¹':''", "tickSize": -3, "labelPadding": 6, "titlePadding": 10}},
    "detail": {"field": "c"}}},
  {"data": {"values": [{}]}, "mark": {"type": "text", "text": "bent3", "align": "right", "baseline": "alphabetic", "dx": -5, "dy": -6, "fontSize": 12, "color": "black"},
   "encoding": {"x": {"datum": 50, "type": "quantitative"}, "y": {"datum": 0.017, "type": "quantitative"}}}
 ]},
 {"width": 205, "height": 78, "layer": [
  {"data": {"name": "sa"}, "transform": [{"filter": "datum.p=='C3'"}, {"fold": ["c1","c2","c3","c4","c5","c6"], "as": ["c","v"]}, {"filter": "isValid(datum.v)"}],
   "mark": {"type": "line", "stroke": "black", "strokeWidth": 1},
   "encoding": {
    "x": {"field": "f", "type": "quantitative", "scale": {"type": "log", "domain": [0.1, 50], "nice": false}, "axis": {"title": null, "values": [0.1,0.2,0.3,0.4,0.5,0.6,0.7,0.8,0.9,1,2,3,4,5,6,7,8,9,10,20,30,40,50], "labelExpr": "datum.value==0.1?'10⁻¹':datum.value==1?'10⁰':datum.value==10?'10¹':''", "tickSize": -4, "labelPadding": 6}},
    "y": {"field": "v", "type": "quantitative", "scale": {"type": "log", "domain": [0.017, 10], "nice": false}, "axis": {"title": "Sa, g", "values": [0.02,0.03,0.04,0.05,0.06,0.07,0.08,0.09,0.1,0.2,0.3,0.4,0.5,0.6,0.7,0.8,0.9,1,2,3,4,5,6,7,8,9,10], "labelExpr": "datum.value==1?'10⁰':datum.value==10?'10¹':''", "tickSize": -3, "labelPadding": 6, "titlePadding": 19}},
    "detail": {"field": "c"}}},
  {"data": {"values": [{}]}, "mark": {"type": "text", "text": "bent3", "align": "right", "baseline": "alphabetic", "dx": -5, "dy": -6, "fontSize": 12, "color": "black"},
   "encoding": {"x": {"datum": 50, "type": "quantitative"}, "y": {"datum": 0.017, "type": "quantitative"}}}
 ]},
 {"width": 207, "height": 78, "layer": [
  {"data": {"name": "sa"}, "transform": [{"filter": "datum.p=='U4'"}, {"fold": ["c1","c2","c3","c4","c5","c6","c7","c8"], "as": ["c","v"]}, {"filter": "isValid(datum.v)"}],
   "mark": {"type": "line", "stroke": "black", "strokeWidth": 1},
   "encoding": {
    "x": {"field": "f", "type": "quantitative", "scale": {"type": "log", "domain": [0.1, 50], "nice": false}, "axis": {"title": null, "values": [0.1,0.2,0.3,0.4,0.5,0.6,0.7,0.8,0.9,1,2,3,4,5,6,7,8,9,10,20,30,40,50], "labelExpr": "datum.value==0.1?'10⁻¹':datum.value==1?'10⁰':datum.value==10?'10¹':''", "tickSize": -4, "labelPadding": 6}},
    "y": {"field": "v", "type": "quantitative", "scale": {"type": "log", "domain": [0.017, 10], "nice": false}, "axis": {"title": "Sa, g", "values": [0.02,0.03,0.04,0.05,0.06,0.07,0.08,0.09,0.1,0.2,0.3,0.4,0.5,0.6,0.7,0.8,0.9,1,2,3,4,5,6,7,8,9,10], "labelExpr": "datum.value==1?'10⁰':datum.value==10?'10¹':''", "tickSize": -3, "labelPadding": 6, "titlePadding": 10}},
    "detail": {"field": "c"}}},
  {"data": {"values": [{}]}, "mark": {"type": "text", "text": "bent4", "align": "right", "baseline": "alphabetic", "dx": -5, "dy": -6, "fontSize": 12, "color": "black"},
   "encoding": {"x": {"datum": 50, "type": "quantitative"}, "y": {"datum": 0.017, "type": "quantitative"}}}
 ]},
 {"width": 205, "height": 78, "layer": [
  {"data": {"name": "sa"}, "transform": [{"filter": "datum.p=='C4'"}, {"fold": ["c1","c2","c3","c4","c5","c6"], "as": ["c","v"]}, {"filter": "isValid(datum.v)"}],
   "mark": {"type": "line", "stroke": "black", "strokeWidth": 1},
   "encoding": {
    "x": {"field": "f", "type": "quantitative", "scale": {"type": "log", "domain": [0.1, 50], "nice": false}, "axis": {"title": null, "values": [0.1,0.2,0.3,0.4,0.5,0.6,0.7,0.8,0.9,1,2,3,4,5,6,7,8,9,10,20,30,40,50], "labelExpr": "datum.value==0.1?'10⁻¹':datum.value==1?'10⁰':datum.value==10?'10¹':''", "tickSize": -4, "labelPadding": 6}},
    "y": {"field": "v", "type": "quantitative", "scale": {"type": "log", "domain": [0.017, 10], "nice": false}, "axis": {"title": "Sa, g", "values": [0.02,0.03,0.04,0.05,0.06,0.07,0.08,0.09,0.1,0.2,0.3,0.4,0.5,0.6,0.7,0.8,0.9,1,2,3,4,5,6,7,8,9,10], "labelExpr": "datum.value==1?'10⁰':datum.value==10?'10¹':''", "tickSize": -3, "labelPadding": 6, "titlePadding": 19}},
    "detail": {"field": "c"}}},
  {"data": {"values": [{}]}, "mark": {"type": "text", "text": "bent4", "align": "right", "baseline": "alphabetic", "dx": -5, "dy": -6, "fontSize": 12, "color": "black"},
   "encoding": {"x": {"datum": 50, "type": "quantitative"}, "y": {"datum": 0.017, "type": "quantitative"}}}
 ]},
 {"width": 207, "height": 78, "layer": [
  {"data": {"name": "sa"}, "transform": [{"filter": "datum.p=='U5'"}, {"fold": ["c1","c2","c3","c4","c5","c6","c7","c8"], "as": ["c","v"]}, {"filter": "isValid(datum.v)"}],
   "mark": {"type": "line", "stroke": "black", "strokeWidth": 1},
   "encoding": {
    "x": {"field": "f", "type": "quantitative", "scale": {"type": "log", "domain": [0.1, 50], "nice": false}, "axis": {"title": "ω/2π, Hz", "titleFontSize": 13, "titlePadding": 7, "values": [0.1,0.2,0.3,0.4,0.5,0.6,0.7,0.8,0.9,1,2,3,4,5,6,7,8,9,10,20,30,40,50], "labelExpr": "datum.value==0.1?'10⁻¹':datum.value==1?'10⁰':datum.value==10?'10¹':''", "tickSize": -4, "labelPadding": 6}},
    "y": {"field": "v", "type": "quantitative", "scale": {"type": "log", "domain": [0.017, 10], "nice": false}, "axis": {"title": "Sa, g", "values": [0.02,0.03,0.04,0.05,0.06,0.07,0.08,0.09,0.1,0.2,0.3,0.4,0.5,0.6,0.7,0.8,0.9,1,2,3,4,5,6,7,8,9,10], "labelExpr": "datum.value==1?'10⁰':datum.value==10?'10¹':''", "tickSize": -3, "labelPadding": 6, "titlePadding": 10}},
    "detail": {"field": "c"}}},
  {"data": {"values": [{}]}, "mark": {"type": "text", "text": "abut5", "align": "right", "baseline": "alphabetic", "dx": -5, "dy": -6, "fontSize": 12, "color": "black"},
   "encoding": {"x": {"datum": 50, "type": "quantitative"}, "y": {"datum": 0.017, "type": "quantitative"}}}
 ]},
 {"width": 205, "height": 78, "layer": [
  {"data": {"name": "sa"}, "transform": [{"filter": "datum.p=='C5'"}, {"fold": ["c1","c2","c3","c4","c5","c6"], "as": ["c","v"]}, {"filter": "isValid(datum.v)"}],
   "mark": {"type": "line", "stroke": "black", "strokeWidth": 1},
   "encoding": {
    "x": {"field": "f", "type": "quantitative", "scale": {"type": "log", "domain": [0.1, 50], "nice": false}, "axis": {"title": "ω/2π, Hz", "titleFontSize": 13, "titlePadding": 7, "values": [0.1,0.2,0.3,0.4,0.5,0.6,0.7,0.8,0.9,1,2,3,4,5,6,7,8,9,10,20,30,40,50], "labelExpr": "datum.value==0.1?'10⁻¹':datum.value==1?'10⁰':datum.value==10?'10¹':''", "tickSize": -4, "labelPadding": 6}},
    "y": {"field": "v", "type": "quantitative", "scale": {"type": "log", "domain": [0.017, 10], "nice": false}, "axis": {"title": "Sa, g", "values": [0.02,0.03,0.04,0.05,0.06,0.07,0.08,0.09,0.1,0.2,0.3,0.4,0.5,0.6,0.7,0.8,0.9,1,2,3,4,5,6,7,8,9,10], "labelExpr": "datum.value==1?'10⁰':datum.value==10?'10¹':''", "tickSize": -3, "labelPadding": 6, "titlePadding": 19}},
    "detail": {"field": "c"}}},
  {"data": {"values": [{}]}, "mark": {"type": "text", "text": "abut5", "align": "right", "baseline": "alphabetic", "dx": -5, "dy": -6, "fontSize": 12, "color": "black"},
   "encoding": {"x": {"datum": 50, "type": "quantitative"}, "y": {"datum": 0.017, "type": "quantitative"}}}
 ]}
]
}
